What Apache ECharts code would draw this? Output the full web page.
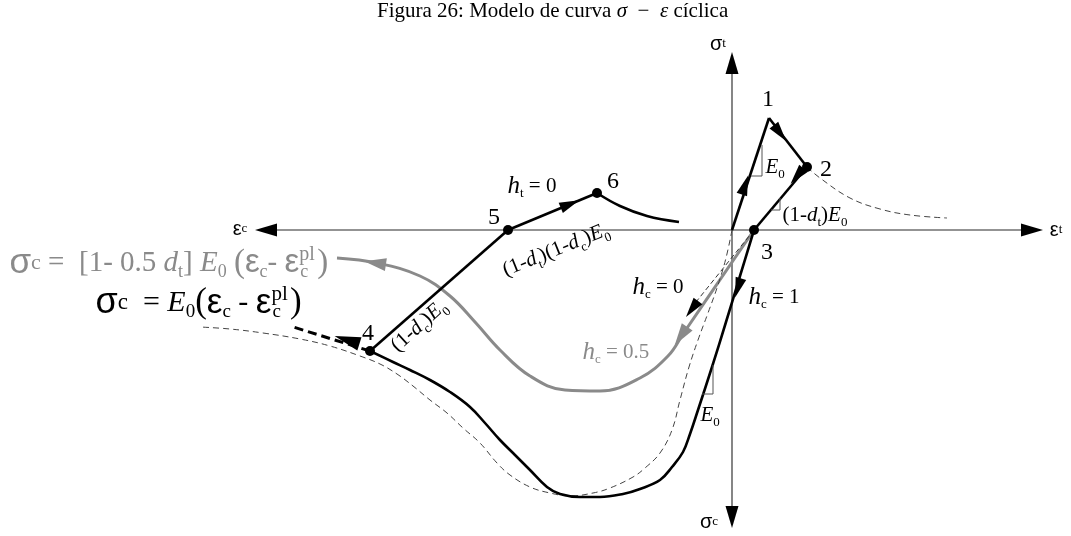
<!DOCTYPE html>
<html>
<head>
<meta charset="utf-8">
<script src="https://cdn.jsdelivr.net/npm/echarts@6/dist/echarts.min.js"></script>
<style>
  html, body { margin: 0; padding: 0; background: #ffffff; }
  #chart { width: 1071px; height: 536px; }
</style>
</head>
<body>
<div id="chart"></div>
<script>
// ---- Schematic cyclic σ–ε model (strain ε horizontal, stress σ vertical, arbitrary units) ----

// axis extents drawn as arrows
const strainExtent = [-47.7, 31.1];
const stressExtent = [-29.8, 17.8];

// tension branch: origin -> 1 (peak) -> 2 -> unloading to 3
const tensionLoading = [[0, 0], [3.7, 11.2]];
const tensionSoftening = [[3.7, 11.2], [7.5, 6.3]];
const tensionUnloading = [[7.5, 6.3], [2.2, 0]];
const tensionEnvelope = [[7.5, 6.3], [8.8, 5.2], [11.8, 3.2], [14.8, 2.1], [17.8, 1.5], [21.5, 1.2]];

// compression branch with full stiffness recovery (hc = 1): 3 -> peak -> 4
const compressionPath = [
  [2.2, 0], [0.8, -4.6], [-0.6, -9.2], [-2.0, -13.7], [-3.4, -18.0], [-4.2, -20.4],
  [-4.9, -22.2], [-6.0, -23.7], [-7.2, -25.0], [-9.2, -25.9], [-10.9, -26.4],
  [-13.2, -26.7], [-15.2, -26.7], [-17.2, -26.4], [-18.5, -25.7], [-20.2, -24.0],
  [-21.7, -22.5], [-23.2, -21.0], [-24.7, -19.3], [-26.2, -17.7], [-28.2, -16.2],
  [-30.2, -15.0], [-32.2, -14.0], [-33.9, -13.2], [-36.2, -12.1]
];

// monotonic compression envelope (dashed)
const compressionEnvelope = [
  [0, 0], [-0.6, -2.8], [-1.4, -5.5], [-2.4, -8.3], [-3.4, -11.0], [-4.3, -13.7],
  [-5.2, -17.0], [-6.0, -20.0], [-7.2, -22.3], [-8.7, -23.8], [-9.9, -24.7],
  [-12.2, -25.8], [-13.9, -26.3], [-16.2, -26.6], [-18.2, -26.3], [-20.2, -25.7],
  [-22.2, -24.5], [-23.5, -23.3], [-25.2, -21.3], [-26.9, -19.8], [-28.5, -18.3],
  [-30.2, -17.0], [-31.9, -15.6], [-33.5, -14.4], [-35.2, -13.4], [-37.2, -12.6],
  [-40.2, -11.6], [-43.2, -10.9], [-46.9, -10.3], [-50.2, -9.9], [-53.2, -9.7]
];

// partial stiffness recovery (hc = 0.5)
const halfRecoveryPath = [
  [2.2, 0], [-4.9, -10.4], [-6.4, -12.6], [-9.2, -14.8], [-13.2, -16.1], [-16.7, -16.0],
  [-20.2, -14.6], [-23.2, -12.0], [-25.7, -9.2], [-28.2, -6.6], [-31.2, -4.6],
  [-35.5, -3.3], [-39.5, -2.8]
];

// no stiffness recovery (hc = 0)
const noRecoveryPath = [[2.2, 0], [-3.6, -7.2]];

// compression unloading 4 -> 5, tension reloading 5 -> 6, and beyond 6
const unloading45 = [[-36.2, -12.1], [-22.4, 0]];
const reloading56 = [[-22.4, 0], [-13.5, 3.7]];
const beyond6 = [[-13.5, 3.7], [-11.2, 2.4], [-8.5, 1.4], [-5.3, 0.8]];
const beyond4 = [[-36.2, -12.1], [-44.2, -9.6]];

// stiffness marks (right-angle ticks)
const tickE0Upper = [[3.0, 8.5], [3.0, 5.4], [1.9, 5.4]];
const tickDtE0 = [[4.8, 3.2], [4.8, 2.0], [3.9, 2.0]];
const tickE0Lower = [[-1.9, -13.5], [-1.9, -16.4], [-3.0, -16.4]];

// state points 2..6 (dots)
const statePoints = [[7.5, 6.3], [2.2, 0], [-36.2, -12.1], [-22.4, 0], [-13.5, 3.7]];

// state point numbers
const pointNumbers = [
  { name: '1', at: [3.6, 13.0] },
  { name: '2', at: [9.4, 6.0] },
  { name: '3', at: [3.5, -2.3] },
  { name: '4', at: [-36.4, -10.4] },
  { name: '5', at: [-23.8, 1.2] },
  { name: '6', at: [-11.9, 4.8] }
];

// direction arrows along the paths: position and heading
const blackArrows = [
  { at: [1.3, 4.5], dir: [3.7, 11.2] },
  { at: [4.8, 9.7], dir: [3.8, -4.9] },
  { at: [6.5, 5.4], dir: [-5.3, -6.3] },
  { at: [0.6, -5.8], dir: [-2.8, -9.2] },
  { at: [-4.0, -7.9], dir: [-6.4, -8.5] },
  { at: [-16.2, 2.6], dir: [8.9, 3.7] }
];
const bigArrows = [{ at: [-38.5, -11.0], dir: [-8.0, 2.5] }];
const grayArrows = [
  { at: [-5.1, -10.6], dir: [-7.1, -10.4] },
  { at: [-35.7, -3.3], dir: [-4.0, 0.6] }
];

// axis names
const axisNames = [
  { name: '{g|σ}{gs|t}', at: [-1.4, 18.6] },
  { name: '{g|σ}{gs|c}', at: [-2.3, -29.2] },
  { name: '{g|ε}{gs|c}', at: [-49.2, 0.1] },
  { name: '{g|ε}{gs|t}', at: [32.4, 0] }
];

// left-aligned annotations
const notes = [
  { name: '{i|E}{s|0}', at: [3.3, 6.3] },
  { name: '{n|(1-}{i|d}{s|t}{n|)}{i|E}{s|0}', at: [5.0, 1.5] },
  { name: '{h|h}{s|t}{n| = 0}', at: [-22.5, 4.4] },
  { name: '{h|h}{s|c}{n| = 0}', at: [-10.0, -5.7] },
  { name: '{h|h}{s|c}{n| = 1}', at: [1.6, -6.7] },
  { name: '{i|E}{s|0}', at: [-3.2, -18.5] }
];
const grayNotes = [
  { name: '{h|h}{s|c}{n| = 0.5}', at: [-15.0, -12.2] }
];
const slopeNotes = [
  { name: '{n|(1-}{i|d}{s|t}{n|)(1-}{i|d}{s|c}{n|)}{i|E}{s|0}', at: [-17.6, -2.0], rotate: 22 },
  { name: '{n|(1-}{i|d}{s|c}{n|)}{i|E}{s|0}', at: [-31.3, -9.6], rotate: 42 }
];

// constitutive relations
const grayFormula = '{g|σ}{gs|c}{n| =  [1- 0.5 }{i|d}{s|t}{n|] }{i|E}{s|0}{n| }{p|(}{e|ε}{s|c}{n|- }{e|ε}{sp|pl}{s|c}{pr|)}';
const blackFormula = '{g|σ}{gs|c}{n|  = }{i|E}{s|0}{p|(}{e|ε}{s|c}{n| - }{e|ε}{sp|pl}{s|c}{pr|)}';
const formulaAt = { gray: [-72.3, -3.3], black: [-63.7, -7.3] };

// ---------------- drawing ----------------
const SERIF = 'Liberation Serif';
const SANS = 'Liberation Sans';
const INK = '#000000';
const GREY = '#8a8a8a';

function richSet(size, color) {
  const sub = Math.round(size * 0.62);
  return {
    n: { fontFamily: SERIF, fontSize: size, color: color, lineHeight: size + 8 },
    i: { fontFamily: SERIF, fontStyle: 'italic', fontSize: size, color: color, lineHeight: size + 8 },
    h: { fontFamily: SERIF, fontStyle: 'italic', fontSize: size + 4, color: color, lineHeight: size + 8 },
    s: { fontFamily: SERIF, fontSize: sub, color: color, lineHeight: sub, verticalAlign: 'bottom' },
    sp: { fontFamily: SERIF, fontSize: sub + 2, color: color, lineHeight: sub + 2, verticalAlign: 'top', width: 1 },
    g: { fontFamily: SANS, fontSize: Math.round(size * 1.2), color: color, lineHeight: size + 8 },
    gs: { fontFamily: SERIF, fontSize: Math.round(size * 0.75), color: color, lineHeight: size + 8 },
    e: { fontFamily: SANS, fontSize: Math.round(size * 1.15), color: color, lineHeight: size + 8 },
    p: { fontFamily: SERIF, fontSize: Math.round(size * 1.15), color: color, lineHeight: size + 8 },
    pr: { fontFamily: SERIF, fontSize: Math.round(size * 1.15), color: color, lineHeight: size + 8,
          padding: [0, 0, 0, Math.round(size * 0.3)] }
  };
}

function path(data, opts) {
  return {
    type: 'line', data: data, symbol: 'none', silent: true,
    smooth: opts.smooth || false,
    z: opts.z || 3,
    lineStyle: {
      color: opts.color || INK, width: opts.width || 2.6,
      type: opts.dash || 'solid', cap: 'butt', join: 'round', opacity: 1
    }
  };
}

function heading(dir) {
  return Math.atan2(dir[1], dir[0]) * 180 / Math.PI - 90;
}

function arrows(list, color, w, h) {
  return {
    type: 'scatter', silent: true, z: 6,
    symbol: 'triangle', symbolSize: [w, h],
    itemStyle: { color: color, opacity: 1 },
    data: list.map(a => ({ value: a.at, symbolRotate: heading(a.dir) }))
  };
}

function texts(list, opts) {
  const color = opts.color || INK;
  return {
    type: 'scatter', silent: true, z: 8, symbolSize: 1,
    itemStyle: { color: 'rgba(0,0,0,0)', opacity: 1 },
    label: {
      show: true,
      position: opts.position || 'inside',
      distance: 0,
      align: opts.align || 'center',
      verticalAlign: 'middle',
      formatter: p => p.name,
      color: color,
      opacity: 1,
      fontFamily: SERIF,
      fontSize: opts.size || 22,
      rich: richSet(opts.size || 22, color)
    },
    data: list.map(t => ({
      name: t.name, value: t.at,
      label: t.rotate ? { rotate: t.rotate } : undefined
    }))
  };
}

// arrow tips of the two axes: centre the triangles behind the tips
const AXIS_ARROW = [13, 22];
const unitPx = 10;
function axisArrow(tip, dir) {
  const len = Math.hypot(dir[0], dir[1]);
  const back = AXIS_ARROW[1] / 2 / unitPx;
  return { at: [tip[0] - dir[0] / len * back, tip[1] - dir[1] / len * back], dir: dir };
}
const axisArrows = [
  axisArrow([strainExtent[1], 0], [1, 0]),
  axisArrow([strainExtent[0], 0], [-1, 0]),
  axisArrow([0, stressExtent[1]], [0, 1]),
  axisArrow([0, stressExtent[0]], [0, -1])
];

const series = [
  // axes
  path([[strainExtent[0] + 1, 0], [strainExtent[1] - 1, 0]], { color: '#6f6f6f', width: 1.4, z: 1 }),
  path([[0, stressExtent[0] + 1], [0, stressExtent[1] - 1]], { color: '#222222', width: 1.1, z: 1 }),
  arrows(axisArrows, INK, AXIS_ARROW[0], AXIS_ARROW[1]),

  // dashed envelopes and hc = 0 path
  path(tensionEnvelope, { color: '#444', width: 1, dash: [6, 4], smooth: 0.4 }),
  path(compressionEnvelope, { color: '#444', width: 1, dash: [6, 4], smooth: 0.4 }),
  path(noRecoveryPath, { color: '#333', width: 1, dash: [5, 3] }),

  // hc = 0.5 path
  path(halfRecoveryPath, { color: GREY, width: 3, smooth: 0.4, z: 2 }),

  // solid paths
  path(tensionLoading, {}),
  path(tensionSoftening, {}),
  path(tensionUnloading, {}),
  path(compressionPath, { smooth: 0.4 }),
  path(unloading45, {}),
  path(reloading56, {}),
  path(beyond6, { smooth: 0.4 }),
  path(beyond4, { width: 3, dash: [9, 5] }),

  // stiffness ticks
  path(tickE0Upper, { color: '#555', width: 1 }),
  path(tickDtE0, { color: '#555', width: 1 }),
  path(tickE0Lower, { color: '#555', width: 1 }),

  // arrows
  arrows(blackArrows, INK, 11, 20),
  arrows(bigArrows, INK, 14, 26),
  arrows(grayArrows, GREY, 13, 22),

  // state points
  {
    type: 'scatter', silent: true, z: 7, symbol: 'circle', symbolSize: 10,
    itemStyle: { color: INK, opacity: 1 }, data: statePoints
  },

  // text
  texts(pointNumbers, { size: 24 }),
  texts(axisNames, { size: 17 }),
  texts(notes, { size: 21, position: 'right', align: 'left' }),
  texts(grayNotes, { size: 21, position: 'right', align: 'left', color: GREY }),
  texts(slopeNotes, { size: 21 }),
  texts([{ name: grayFormula, at: formulaAt.gray }], { size: 29, position: 'right', align: 'left', color: GREY }),
  texts([{ name: blackFormula, at: formulaAt.black }], { size: 30, position: 'right', align: 'left' })
];

const chart = echarts.init(document.getElementById('chart'), null, { renderer: 'canvas' });
chart.setOption({
  animation: false,
  backgroundColor: '#ffffff',
  title: {
    text: '{a|Figura 26: Modelo de curva }{m|σ}{a|  −  }{m|ε}{a| cíclica}',
    left: 377, top: 1, padding: 0,
    textStyle: {
      fontWeight: 'normal',
      rich: {
        a: { fontFamily: SERIF, fontSize: 21, fontWeight: 'normal', color: '#000' },
        m: { fontFamily: SERIF, fontStyle: 'italic', fontWeight: 'normal', fontSize: 21, color: '#000' }
      }
    }
  },
  grid: { left: 0, right: 0, top: 0, bottom: 0 },
  xAxis: { type: 'value', min: -73.2, max: 33.9, show: false },
  yAxis: { type: 'value', min: -30.6, max: 23.0, show: false },
  series: series
});
</script>
</body>
</html>
